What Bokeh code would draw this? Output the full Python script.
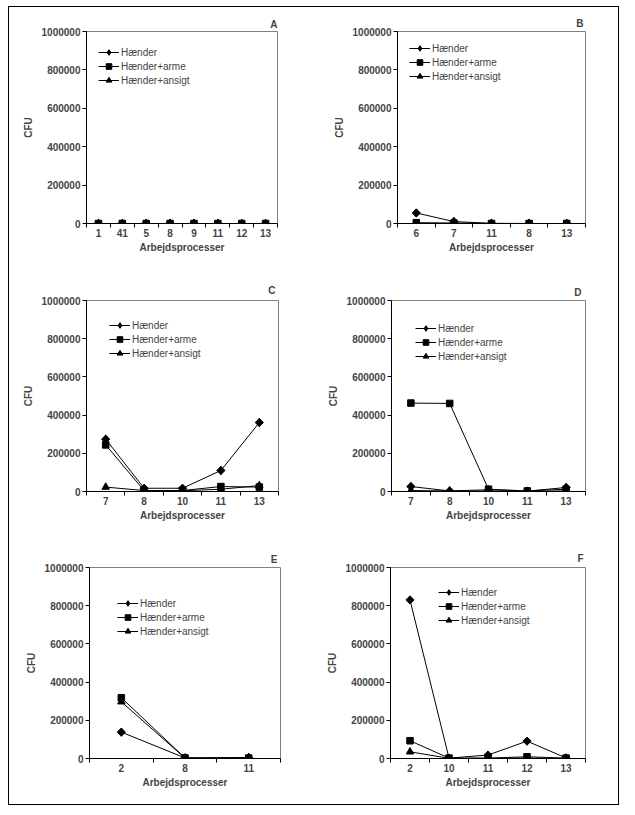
import math
from bokeh.plotting import figure
from bokeh.models import (Range1d, FixedTicker, NumeralTickFormatter, Legend,
                          LegendItem, Title)
from bokeh.layouts import column, row
from bokeh.embed import file_html
from bokeh.resources import INLINE

# ---------------- data ----------------
SERIES = ["Hænder", "Hænder+arme", "Hænder+ansigt"]
Y_TICKS = [0, 200000, 400000, 600000, 800000, 1000000]

A_cats = ["1", "41", "5", "8", "9", "11", "12", "13"]
A_haender = [0, 0, 0, 0, 0, 0, 0, 0]
A_arme = [0, 0, 0, 0, 0, 0, 0, 0]
A_ansigt = [0, 0, 0, 0, 0, 0, 0, 0]

B_cats = ["6", "7", "11", "8", "13"]
B_haender = [55000, 10000, 1000, 0, 0]
B_arme = [4000, 2000, 0, 0, 0]
B_ansigt = [1000, 1000, 0, 0, 0]

C_cats = ["7", "8", "10", "11", "13"]
C_haender = [274000, 17000, 17000, 110000, 361000]
C_arme = [244000, 5000, 5000, 26000, 23000]
C_ansigt = [23000, 5000, 4000, 12000, 31000]

D_cats = ["7", "8", "10", "11", "13"]
D_haender = [26000, 3000, 9000, 2000, 21000]
D_arme = [463000, 461000, 12000, 3000, 12000]
D_ansigt = [5000, 3000, 2000, 1000, 3000]

E_cats = ["2", "8", "11"]
E_haender = [138000, 3000, 5000]
E_arme = [318000, 3000, 2000]
E_ansigt = [297000, 2000, 1000]

F_cats = ["2", "10", "11", "12", "13"]
F_haender = [830000, 2000, 18000, 91000, 3000]
F_arme = [93000, 2000, 2000, 9000, 2000]
F_ansigt = [35000, 1000, 1000, 2000, 1000]

FONT = "Liberation Sans"
# base markers (also used by the legend) and optional overlay markers
BASE_MARKERS = ["diamond", "square", "triangle"]
BASE_SIZES = [8, 6.5, 7.5]
OVER_MARKERS = ["square", None, None]
OVER_ANGLES = [math.pi / 4, 0, 0]
OVER_SIZES = [5.8, 0, 0]
ROW_H = 14
FS = "10px"


def panel(letter, cats, h, a, s, width, height, bl, br, bt, bb,
          leg_x, leg_top, let_off, let_standoff):
    n = len(cats)
    p = figure(width=width, height=height, output_backend="svg",
               toolbar_location=None, title=None,
               x_range=Range1d(0, n), y_range=Range1d(0, 1000000),
               min_border_left=bl, min_border_right=br,
               min_border_top=bt, min_border_bottom=bb)
    p.xgrid.visible = False
    p.ygrid.visible = False
    p.outline_line_color = "#808080"
    p.outline_line_width = 1
    p.background_fill_color = "white"
    p.border_fill_color = "white"

    centers = [i + 0.5 for i in range(n)]
    bounds = [float(i) for i in range(n + 1)]

    xa = p.xaxis[0]
    xa.ticker = FixedTicker(ticks=centers, minor_ticks=bounds)
    xa.major_label_overrides = {c: lab for c, lab in zip(centers, cats)}
    xa.major_tick_line_color = None
    xa.major_tick_out = 0
    xa.major_tick_in = 0
    xa.minor_tick_out = 4
    xa.minor_tick_in = 0
    xa.minor_tick_line_color = "black"
    xa.axis_line_color = "black"
    xa.major_label_standoff = 1
    xa.major_label_text_font = FONT
    xa.major_label_text_font_style = "bold"
    xa.major_label_text_font_size = FS
    xa.axis_label = "Arbejdsprocesser"
    xa.axis_label_text_font = FONT
    xa.axis_label_text_font_style = "bold"
    xa.axis_label_text_font_size = FS
    xa.axis_label_standoff = 2

    ya = p.yaxis[0]
    ya.ticker = FixedTicker(ticks=Y_TICKS, minor_ticks=[])
    ya.formatter = NumeralTickFormatter(format="0")
    ya.major_tick_out = 4
    ya.major_tick_in = 0
    ya.minor_tick_line_color = None
    ya.axis_line_color = "black"
    ya.major_label_standoff = 2
    ya.major_label_text_font = FONT
    ya.major_label_text_font_style = "bold"
    ya.major_label_text_font_size = FS
    ya.axis_label = "CFU"
    ya.axis_label_text_font = FONT
    ya.axis_label_text_font_style = "bold"
    ya.axis_label_text_font_size = FS
    ya.axis_label_standoff = 5

    items = []
    for name, vals, bmk, bsz, omk, oang, osz in zip(
            SERIES, [h, a, s], BASE_MARKERS, BASE_SIZES,
            OVER_MARKERS, OVER_ANGLES, OVER_SIZES):
        ln = p.line(centers, vals, line_color="black", line_width=1)
        sc = p.scatter(centers, vals, marker=bmk, size=bsz,
                       fill_color="black", line_color="black")
        if omk is not None:
            p.scatter(centers, vals, marker=omk, size=osz, angle=oang,
                      fill_color="black", line_color="black")
        items.append(LegendItem(label=name, renderers=[ln, sc]))

    frame_h = height - bt - bb
    leg_h = ROW_H * 3
    leg = Legend(items=items, location=(leg_x, frame_h - leg_top - leg_h),
                 padding=0, margin=0, spacing=0,
                 glyph_width=21, glyph_height=ROW_H, label_height=ROW_H,
                 label_standoff=2, border_line_color=None,
                 background_fill_alpha=0,
                 label_text_font=FONT, label_text_font_size=FS)
    p.add_layout(leg)

    p.add_layout(Title(text=letter, align="right", offset=let_off,
                       standoff=let_standoff, text_font=FONT,
                       text_font_style="bold", text_font_size=FS), "above")
    return p


pA = panel("A", A_cats, A_haender, A_arme, A_ansigt, 304, 265, 77, 36, 24, 49,
           12, 14, 0, 3)
pB = panel("B", B_cats, B_haender, B_arme, B_ansigt, 305, 265, 84, 33, 24, 49,
           12, 10, 2, 5)
pC = panel("C", C_cats, C_haender, C_arme, C_ansigt, 304, 269, 77, 35, 28, 50,
           23, 18, 3, 9)
pD = panel("D", D_cats, D_haender, D_arme, D_ansigt, 305, 269, 78, 33, 28, 50,
           24, 21, 4, 5)
pE = panel("E", E_cats, E_haender, E_arme, E_ansigt, 304, 263, 80, 33, 26, 46,
           28, 29, 3, 6)
pF = panel("F", F_cats, F_haender, F_arme, F_ansigt, 305, 263, 77, 33, 26, 46,
           48, 18, 2, 7)

layout = column(row(pA, pB), row(pC, pD), row(pE, pF),
                styles={"border": "1px solid black", "margin-left": "8px",
                        "margin-top": "6px"})

open("out.html", "w").write(file_html(layout, INLINE))
